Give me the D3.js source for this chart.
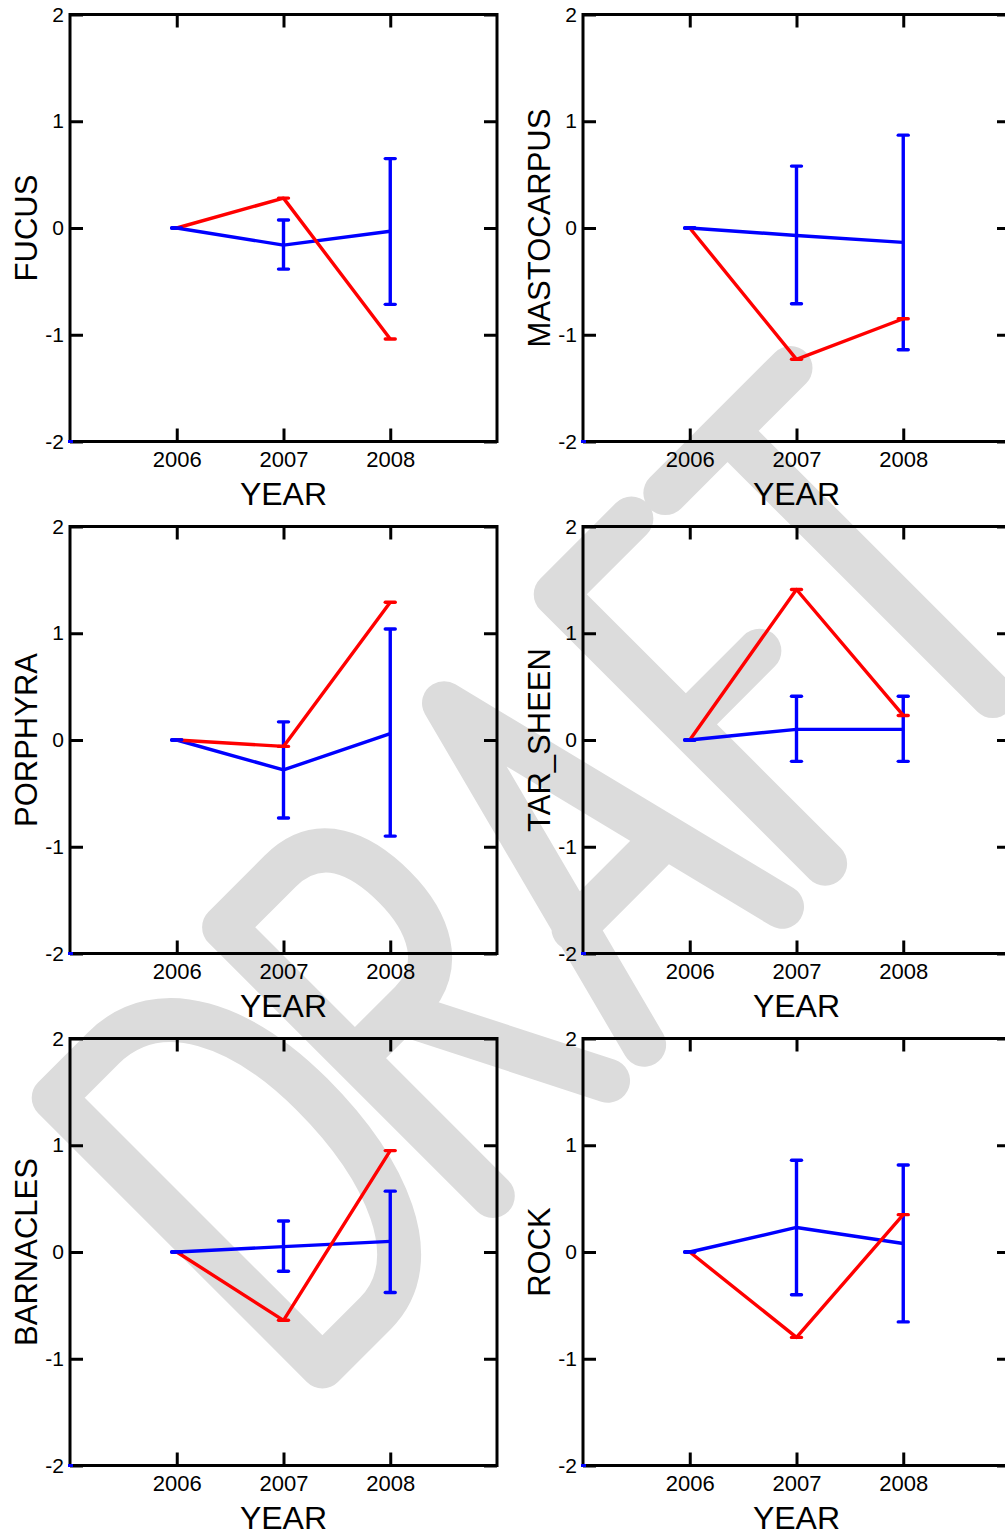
<!DOCTYPE html>
<html><head><meta charset="utf-8">
<script src="https://cdn.jsdelivr.net/npm/d3@7"></script>
<style>body{margin:0;background:#fff}svg{display:block}</style>
</head><body>
<script>
// ---- data ----
const years = [2006, 2007, 2008];
const yTicks = [-2, -1, 0, 1, 2];
const panelNames = ["FUCUS", "MASTOCARPUS", "PORPHYRA", "TAR_SHEEN", "BARNACLES", "ROCK"];

const redFucus = [0, 0.28, -1.04];
const redMastocarpus = [0, -1.23, -0.85];
const redPorphyra = [0, -0.06, 1.29];
const redTarSheen = [0, 1.41, 0.23];
const redBarnacles = [0, -0.64, 0.95];
const redRock = [0, -0.80, 0.35];

const blueFucus = [0, -0.16, -0.03];
const blueMastocarpus = [0, -0.07, -0.135];
const bluePorphyra = [0, -0.28, 0.06];
const blueTarSheen = [0, 0.10, 0.10];
const blueBarnacles = [0, 0.05, 0.10];
const blueRock = [0, 0.23, 0.08];

const lowFucus = [0, -0.385, -0.715];
const lowMastocarpus = [0, -0.71, -1.14];
const lowPorphyra = [0, -0.73, -0.90];
const lowTarSheen = [0, -0.20, -0.20];
const lowBarnacles = [0, -0.18, -0.38];
const lowRock = [0, -0.40, -0.655];

const highFucus = [0, 0.075, 0.65];
const highMastocarpus = [0, 0.58, 0.87];
const highPorphyra = [0, 0.17, 1.04];
const highTarSheen = [0, 0.41, 0.41];
const highBarnacles = [0, 0.29, 0.57];
const highRock = [0, 0.86, 0.815];

const panels = [
  {name: panelNames[0], red: redFucus, blue: blueFucus, lo: lowFucus, hi: highFucus},
  {name: panelNames[1], red: redMastocarpus, blue: blueMastocarpus, lo: lowMastocarpus, hi: highMastocarpus},
  {name: panelNames[2], red: redPorphyra, blue: bluePorphyra, lo: lowPorphyra, hi: highPorphyra},
  {name: panelNames[3], red: redTarSheen, blue: blueTarSheen, lo: lowTarSheen, hi: highTarSheen},
  {name: panelNames[4], red: redBarnacles, blue: blueBarnacles, lo: lowBarnacles, hi: highBarnacles},
  {name: panelNames[5], red: redRock, blue: blueRock, lo: lowRock, hi: highRock}
];

// ---- layout ----
const W = 1005, H = 1535;
const colX = [70, 583];
const rowY = [14.5, 526.5, 1038.5];
const S = 427;
const FONT = "'Liberation Sans', Arial, Helvetica, sans-serif";
const RED = "#ff0000", BLUE = "#0000ff";

const svg = d3.select("body").append("svg").attr("width", W).attr("height", H);
svg.append("rect").attr("width", W).attr("height", H).attr("fill", "#fff");

// ---- DRAFT watermark (decoration) ----
const wm = svg.append("g").attr("transform", "translate(333,1377) rotate(-45)")
  .attr("fill", "none").attr("stroke", "#dcdcdc").attr("stroke-width", 44)
  .attr("stroke-linecap", "round").attr("stroke-linejoin", "round");
const letters = [
  "M0,-15 L0,-395 L70,-395 C150,-395 185,-310 185,-215 C185,-110 150,-15 75,-15 Z",
  "M241,-15 L241,-395 L320,-395 C375,-395 390,-350 390,-303 C390,-255 370,-210 320,-210 L241,-210 M305,-210 L404,-15",
  "M455,-15 L555,-398 L650,-15 M487,-147 L617,-147",
  "M818,-396 L711,-396 L711,-15 M711,-212 L815,-212",
  "M860,-390 L1037,-390 M948,-390 L948,-15"
];
wm.selectAll("path").data(letters).join("path").attr("d", d => d);

// ---- scales ----
const x = d3.scaleLinear().domain([2005, 2009]).range([0, S]);
const y = d3.scaleLinear().domain([-2, 2]).range([S, 0]);
const line = d3.line().x(d => x(d[0])).y(d => y(d[1]));

function styleAxis(g, fs) {
  g.select(".domain").remove();
  g.selectAll(".tick line").attr("stroke", "#000").attr("stroke-width", 3);
  g.selectAll(".tick text").attr("fill", "#000").attr("font-size", fs).attr("font-family", FONT);
}

panels.forEach((p, i) => {
  const col = i % 2, row = Math.floor(i / 2);
  const g = svg.append("g").attr("transform", `translate(${colX[col]},${rowY[row]})`);

  // axes with inward ticks
  g.append("g").call(d3.axisLeft(y).tickValues(yTicks).tickSize(-13).tickPadding(6).tickFormat(d => String(d)))
    .call(a => styleAxis(a, 21));
  g.append("g").attr("transform", `translate(${S},0)`)
    .call(d3.axisRight(y).tickValues(yTicks).tickSize(-13).tickFormat(""))
    .call(a => styleAxis(a, 21));
  g.append("g").call(d3.axisTop(x).tickValues(years).tickSize(-13).tickFormat(""))
    .call(a => styleAxis(a, 22));
  g.append("g").attr("transform", `translate(0,${S})`)
    .call(d3.axisBottom(x).tickValues(years).tickSize(-13).tickPadding(10).tickFormat(d => String(d)))
    .call(a => styleAxis(a, 22));

  // frame
  g.append("rect").attr("x", 0).attr("y", 0).attr("width", S).attr("height", S)
    .attr("fill", "none").attr("stroke", "#000").attr("stroke-width", 3);

  // axis titles
  g.append("text").attr("x", x(2007)).attr("y", S + 63).attr("text-anchor", "middle")
    .attr("font-family", FONT).attr("font-size", 32).attr("fill", "#000").text("YEAR");
  g.append("text").attr("transform", `translate(-33,${S / 2}) rotate(-90)`).attr("text-anchor", "middle")
    .attr("font-family", FONT).attr("font-size", 31).attr("fill", "#000").text(p.name);

  // corner marker
  g.append("line").attr("x1", x(2005) - 2).attr("x2", x(2005) + 3).attr("y1", y(-2)).attr("y2", y(-2))
    .attr("stroke", BLUE).attr("stroke-width", 3);

  const blueData = years.map((yr, k) => [yr, p.blue[k]]);
  const redData = years.map((yr, k) => [yr, p.red[k]]);
  const cap = 5;

  // blue series with error bars
  g.append("path").attr("d", line(blueData)).attr("fill", "none").attr("stroke", BLUE)
    .attr("stroke-width", 3.4).attr("stroke-linejoin", "round");
  years.forEach((yr, k) => {
    g.append("line").attr("x1", x(yr)).attr("x2", x(yr)).attr("y1", y(p.lo[k])).attr("y2", y(p.hi[k]))
      .attr("stroke", BLUE).attr("stroke-width", 3.4);
    [p.lo[k], p.hi[k]].forEach(v => {
      g.append("line").attr("x1", x(yr) - cap).attr("x2", x(yr) + cap).attr("y1", y(v)).attr("y2", y(v))
        .attr("stroke", BLUE).attr("stroke-width", 3.4).attr("stroke-linecap", "round");
    });
  });

  // red series
  g.append("path").attr("d", line(redData)).attr("fill", "none").attr("stroke", RED)
    .attr("stroke-width", 3.4).attr("stroke-linejoin", "round");
  years.forEach((yr, k) => {
    if (k === 0) return;
    g.append("line").attr("x1", x(yr) - cap).attr("x2", x(yr) + cap).attr("y1", y(p.red[k])).attr("y2", y(p.red[k]))
      .attr("stroke", RED).attr("stroke-width", 3.4).attr("stroke-linecap", "round");
  });
  // first (2006) point marker in blue on top
  g.append("line").attr("x1", x(years[0]) - cap).attr("x2", x(years[0]) + cap)
    .attr("y1", y(p.blue[0])).attr("y2", y(p.blue[0]))
    .attr("stroke", BLUE).attr("stroke-width", 3.4).attr("stroke-linecap", "round");
});
</script>
</body></html>
